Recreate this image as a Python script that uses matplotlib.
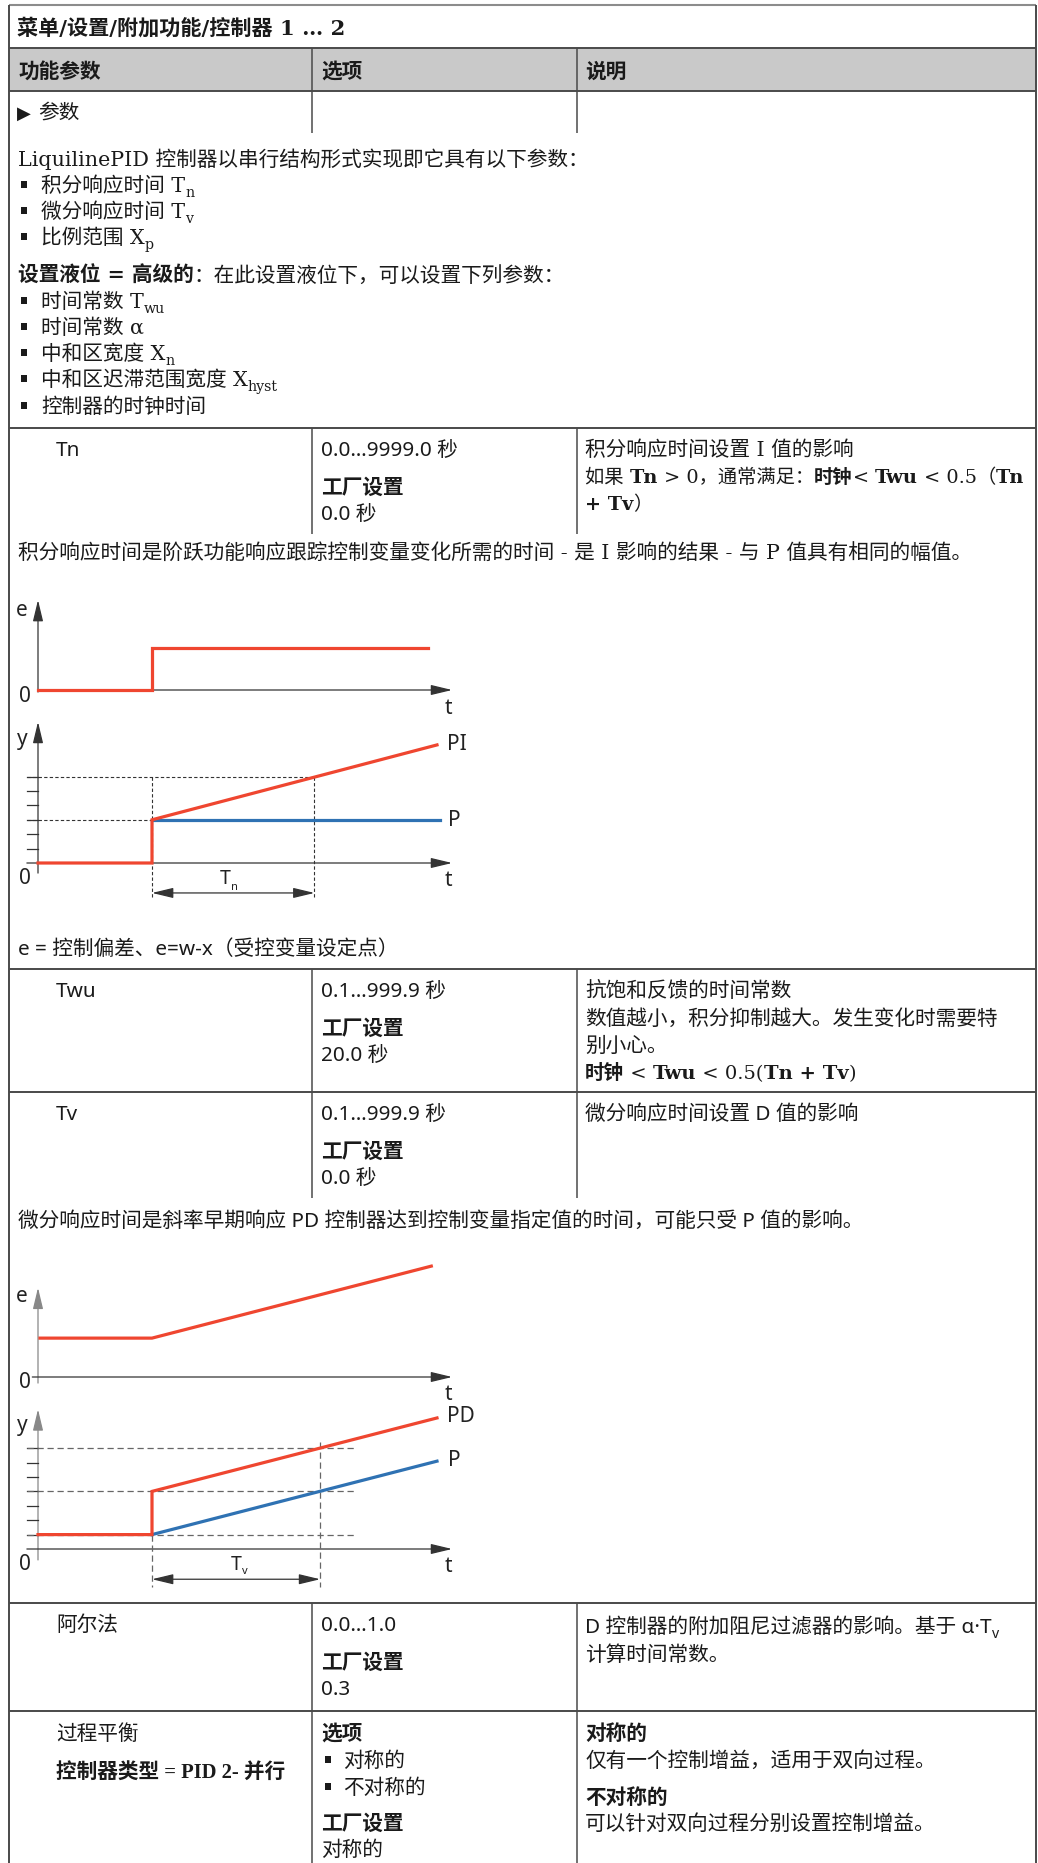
import matplotlib
matplotlib.use("Agg")
import matplotlib.pyplot as plt
from matplotlib.patches import Rectangle, FancyArrowPatch
from matplotlib.font_manager import FontProperties

# ---------------- data ----------------
title_text = "菜单/设置/附加功能/控制器 1 … 2"
header_labels = ["功能参数", "选项", "说明"]
param_group = "参数"
param_names = ["Tn", "Twu", "Tv", "阿尔法", "过程平衡"]
range_texts = ["0.0…9999.0 秒", "0.1…999.9 秒", "0.1…999.9 秒", "0.0…1.0"]
factory_label = "工厂设置"
factory_values = ["0.0 秒", "20.0 秒", "0.0 秒", "0.3", "对称的"]
balance_options = ["对称的", "不对称的"]
intro_line = "LiquilinePID 控制器以串行结构形式实现即它具有以下参数："
intro_bullets = [("积分响应时间 T", "n"), ("微分响应时间 T", "v"), ("比例范围 X", "p")]
adv_bullets = [("时间常数 T", "wu"), ("时间常数 α", ""), ("中和区宽度 X", "n"),
               ("中和区迟滞范围宽度 X", "hyst"), ("控制器的时钟时间", "")]
pi_note = "积分响应时间是阶跃功能响应跟踪控制变量变化所需的时间 - 是 I 影响的结果 - 与 P 值具有相同的幅值。"
e_note = "e = 控制偏差、e=w-x（受控变量设定点）"
pd_note = "微分响应时间是斜率早期响应 PD 控制器达到控制变量指定值的时间，可能只受 P 值的影响。"

# PI diagram (arbitrary time / value units)
pi_e_t = [0.0, 4.0, 4.0, 13.7]
pi_e_v = [0.0, 0.0, 2.9, 2.9]
pi_p_t = [4.0, 14.1]
pi_p_v = [3.0, 3.0]
pi_pi_t = [0.0, 4.0, 4.0, 14.0]
pi_pi_v = [0.0, 0.0, 3.0, 8.2]
pi_step_t = 4.0
pi_tn = 5.7
pi_levels = [3.0, 6.0]
pi_ticks = [1, 2, 3, 4, 5, 6]

# PD diagram
pd_e_t = [0.07, 4.0, 13.8]
pd_e_v = [2.7, 2.7, 7.7]
pd_p_t = [4.0, 14.0]
pd_p_v = [1.0, 6.1]
pd_pd_t = [0.0, 4.0, 4.0, 14.0]
pd_pd_v = [1.0, 1.0, 4.0, 9.1]
pd_step_t = 4.0
pd_tv = 5.9
pd_levels = [1.0, 4.0, 7.0]
pd_ticks = [1, 2, 3, 4, 5, 6, 7]

# ---------------- setup ----------------
W, H = 1038, 1863
fig = plt.figure(figsize=(W / 100, H / 100), dpi=100)
ax = fig.add_axes([0, 0, 1, 1])
ax.set_xlim(0, W)
ax.set_ylim(H, 0)
ax.axis("off")
renderer = fig.canvas.get_renderer()

CJK = "Noto Sans CJK SC"
SANS = ["Noto Sans", CJK, "DejaVu Sans"]
SERIF = ["DejaVu Serif", CJK, "DejaVu Sans"]
SERIF_N = ["Liberation Serif", CJK, "DejaVu Sans"]
FS = 14.9
TXT = "#1a1a1a"
RED = "#ef4630"
BLUE = "#2f72b3"
LINE = "#4a4a4a"


def adv(s, fam, fs, bold):
    fp = FontProperties(family=fam, size=fs, weight="bold" if bold else "normal")
    w1, _, _ = renderer.get_text_width_height_descent("|" + s + "|", fp, ismath=False)
    w0, _, _ = renderer.get_text_width_height_descent("||", fp, ismath=False)
    return w1 - w0


def rich(x, y, segs, fam=SANS, size=FS):
    for seg in segs:
        s = seg[0]
        o = seg[1] if len(seg) > 1 else {}
        f = o.get("fam", fam)
        fs = o.get("size", size)
        bold = o.get("b", False)
        dy = 0
        if o.get("sub"):
            fs = size * 0.68
            dy = 5
        ax.text(x, y + dy, s, fontsize=fs, family=f,
                fontweight="bold" if bold else "normal",
                va="baseline", ha="left", color=TXT)
        x += adv(s, f, fs, bold)
    return x


def hline(y, x0=9, x1=1036, lw=1.4, c=LINE):
    ax.plot([x0, x1], [y, y], color=c, lw=lw, solid_capstyle="butt")


def vline(x, y0, y1, lw=1.1, c=LINE):
    ax.plot([x, x], [y0, y1], color=c, lw=lw, solid_capstyle="butt")


def bullet(x, yc):
    ax.add_patch(Rectangle((x, yc - 4), 6, 7, color=TXT, lw=0))


# ---------------- table frame ----------------
ax.add_patch(Rectangle((9, 48), 1027, 43, facecolor="#c9c9c9", edgecolor="none"))
hline(5, c="#8c8c8c", lw=1.5)
vline(9, 5, H, lw=1.4)
vline(1036, 5, H, lw=1.4)
hline(48)
hline(91)
for y in (428, 969, 1092, 1603, 1711):
    hline(y)
COL2, COL3 = 312, 577
for (a, b) in ((48, 133), (428, 534), (969, 1198), (1603, H)):
    vline(COL2, a, b)
    vline(COL3, a, b)

X1, X2, X3 = 18, 321, 585
XP = 56
B = {"b": True}

# title + headers
rich(17, 35, [(title_text, B)], fam=SERIF, size=15.2)
for x, lab in zip((X1, X2, X3), header_labels):
    rich(x, 78, [(lab, B)])
ax.text(17, 119, "▶", fontsize=13, family="DejaVu Sans", va="baseline", color=TXT)
rich(38, 119, [(param_group,)])

# intro block
ys = [159, 185, 211, 237, 275, 301, 327, 353, 379, 406]
rich(X1, ys[0] + 7, [(intro_line,)], fam=SERIF)
for yc, (main, sub) in zip(ys[1:4], intro_bullets):
    bullet(21, yc)
    segs = [(main,)]
    if sub:
        segs.append((sub, {"sub": True}))
    rich(41, yc + 7, segs, fam=SERIF)
rich(X1, ys[4] + 7, [("设置液位 = 高级的", B), ("：在此设置液位下，可以设置下列参数：",)], fam=SERIF)
for yc, (main, sub) in zip(ys[5:], adv_bullets):
    bullet(21, yc)
    segs = [(main,)]
    if sub:
        segs.append((sub, {"sub": True}))
    rich(41, yc + 7, segs, fam=SERIF)


def param_row(L, idx):
    rich(XP, L + 28, [(param_names[idx],)])
    rich(X2, L + 28, [(range_texts[idx],)])
    rich(X2, L + 66, [(factory_label, B)])
    rich(X2, L + 92, [(factory_values[idx],)])


# Tn row
param_row(428, 0)
rich(X3, 456, [("积分响应时间设置 I 值的影响",)], fam=SERIF)
rich(X3, 483, [("如果 ",), ("Tn", B), (" > 0，通常满足：",), ("时钟", B), ("< ",), ("Twu", B),
               (" < 0.5（",), ("Tn", B)], fam=SERIF, size=13.9)
rich(X3, 510, [("+ Tv", B), ("）",)], fam=SERIF, size=13.9)
rich(X1, 560, [(pi_note,)], fam=SERIF)
rich(X1, 955, [(e_note,)])

# Twu row
param_row(969, 1)
rich(X3, 997, [("抗饱和反馈的时间常数",)])
rich(X3, 1025, [("数值越小，积分抑制越大。发生变化时需要特",)])
rich(X3, 1052, [("别小心。",)])
rich(X3, 1079, [("时钟", B), (" < ",), ("Twu", B), (" < 0.5(",), ("Tn + Tv", B), (")",)], fam=SERIF, size=14)

# Tv row
param_row(1092, 2)
rich(X3, 1120, [("微分响应时间设置 D 值的影响",)])
rich(X1, 1227, [(pd_note,)])

# alpha row
param_row(1603, 3)
rich(X3, 1633, [("D 控制器的附加阻尼过滤器的影响。基于 α·T",), ("v", {"sub": True})])
rich(X3, 1661, [("计算时间常数。",)])

# balance row
rich(XP, 1740, [(param_names[4],)])
rich(XP, 1778, [("控制器类型 = PID 2- 并行", B)], fam=SERIF_N, size=14.9)
rich(X2, 1740, [("选项", B)])
for yc, opt in zip((1760, 1787), balance_options):
    bullet(325, yc)
    rich(343, yc + 7, [(opt,)])
rich(X2, 1830, [(factory_label, B)])
rich(X2, 1856, [(factory_values[4],)])
rich(X3, 1740, [("对称的", B)])
rich(X3, 1767, [("仅有一个控制增益，适用于双向过程。",)])
rich(X3, 1804, [("不对称的", B)])
rich(X3, 1830, [("可以针对双向过程分别设置控制增益。",)])

# ---------------- diagrams ----------------
PXU, PYU = 28.5, 14.4


def diag_axes(x0px, y0px, top, bottom, left=12, right=490):
    a = fig.add_axes([left / W, 1 - bottom / H, (right - left) / W, (bottom - top) / H])
    a.set_xlim((left - x0px) / PXU, (right - x0px) / PXU)
    a.set_ylim((y0px - bottom) / PYU, (y0px - top) / PYU)
    a.axis("off")
    return a


def arrow(a, p0, p1, style="-|>", c="#333333", lw=0.9):
    a.add_patch(FancyArrowPatch(p0, p1, arrowstyle=style + ",head_length=1.0,head_width=0.24",
                                mutation_scale=13, color=c, lw=lw, shrinkA=0, shrinkB=0,
                                clip_on=False))


T_END = 14.53
AXC = "#333333"

# PI: e
a1 = diag_axes(38, 690, 590, 715)
arrow(a1, (0, -0.14), (0, 6.25))
arrow(a1, (0, 0), (T_END, 0))
a1.plot(pi_e_t, pi_e_v, color=RED, lw=2.3, solid_joinstyle="miter", clip_on=False)

# PI: y
a2 = diag_axes(38, 863, 715, 905)
arrow(a2, (0, -0.7), (0, 9.8))
arrow(a2, (-0.39, 0), (T_END, 0))
for v in pi_ticks:
    a2.plot([-0.39, 0], [v, v], color=AXC, lw=0.9)
a2.plot([-0.39, pi_step_t], [pi_levels[0]] * 2, color=AXC, lw=0.8, ls=(0, (3, 2)))
a2.plot([-0.39, pi_step_t + pi_tn], [pi_levels[1]] * 2, color=AXC, lw=0.8, ls=(0, (3, 2)))
for tx in (pi_step_t, pi_step_t + pi_tn):
    a2.plot([tx, tx], [pi_levels[1], -2.36], color=AXC, lw=0.8, ls=(0, (3, 2)))
arrow(a2, (pi_step_t, -2.08), (pi_step_t + pi_tn, -2.08), style="<|-|>")
a2.plot(pi_p_t, pi_p_v, color=BLUE, lw=2.3)
a2.plot(pi_pi_t, pi_pi_v, color=RED, lw=2.3, solid_joinstyle="miter")

# PD: e
a3 = diag_axes(38, 1377, 1255, 1400)
arrow(a3, (0, -0.42), (0, 6.2), c="#888888")
arrow(a3, (-0.2, 0), (T_END, 0))
a3.plot(pd_e_t, pd_e_v, color=RED, lw=2.3)

# PD: y
a4 = diag_axes(38, 1549, 1400, 1595)
arrow(a4, (0, -0.76), (0, 9.7), c="#888888")
arrow(a4, (-0.39, 0), (T_END, 0))
for v in pd_ticks:
    a4.plot([-0.39, 0], [v, v], color=AXC, lw=0.9)
for v in pd_levels:
    a4.plot([-0.39, 11.1], [v, v], color="#666666", lw=0.9, ls=(0, (5, 3)))
a4.plot([pd_step_t, pd_step_t], [pd_levels[0], -2.66], color="#666666", lw=0.9, ls=(0, (5, 3)))
a4.plot([pd_step_t + pd_tv] * 2, [7.4, -2.66], color="#666666", lw=0.9, ls=(0, (5, 3)))
arrow(a4, (pd_step_t, -2.1), (pd_step_t + pd_tv, -2.1), style="<|-|>")
a4.plot(pd_p_t, pd_p_v, color=BLUE, lw=2.3)
a4.plot(pd_pd_t, pd_pd_v, color=RED, lw=2.3, solid_joinstyle="miter")

# diagram labels (pixel layout)
LF = 15
def lab(x, y, s, ha="center", size=LF):
    ax.text(x, y, s, fontsize=size, family=SANS, ha=ha, va="center", color="#222222")

for (ex, ey), (zy1, ty1), (yy, zy2, ty2) in (((22, 610), (697, 708), (740, 878, 881)),
                                            ((22, 1296), (1383, 1394), (1425, 1565, 1567))):
    lab(ex, ey, "e")
    lab(25, zy1, "0")
    lab(448, ty1, "t")
    lab(22, yy, "y")
    lab(25, zy2, "0")
    lab(448, ty2, "t")
lab(447, 745, "PI", ha="left")
lab(448, 820, "P", ha="left")
lab(447, 1417, "PD", ha="left")
lab(448, 1461, "P", ha="left")
lab(225, 879, "T", size=14)
ax.text(231, 887, "n", fontsize=8, family=SANS, va="center", color="#222222")
lab(236, 1565, "T", size=14)
ax.text(242, 1572, "v", fontsize=8, family=SANS, va="center", color="#222222")

fig.savefig("out.png", dpi=100)
